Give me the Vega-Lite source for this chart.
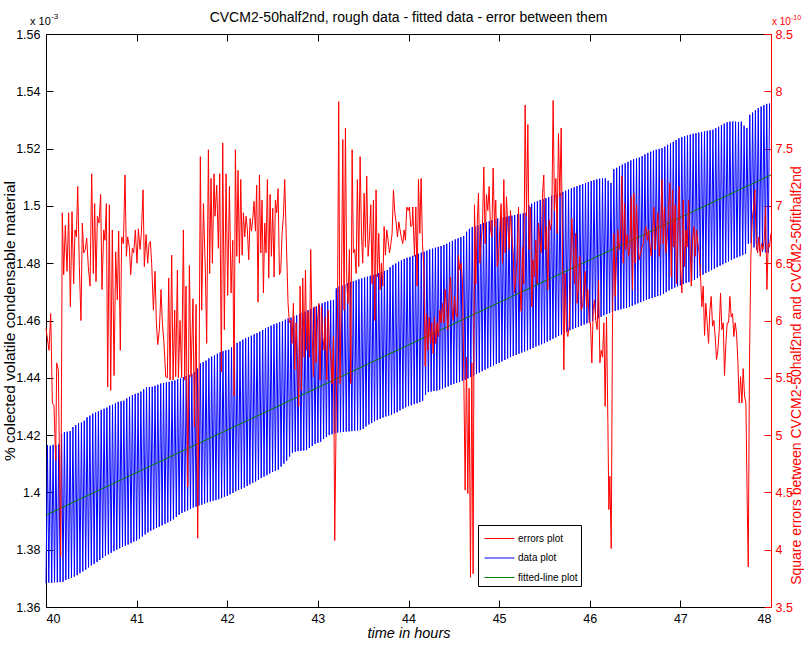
{
"$schema":"https://vega.github.io/schema/vega-lite/v6.json",
"width":725,"height":573,
"autosize":{"type":"none"},
"padding":{"left":46,"top":34,"right":33,"bottom":39},
"background":"white",
"config":{
 "view":{"stroke":null},
 "font":"Liberation Sans, Arial, sans-serif",
 "axis":{"grid":false,"labelFont":"Liberation Sans, Arial, sans-serif","titleFont":"Liberation Sans, Arial, sans-serif","titleFontWeight":"normal","domainWidth":1,"tickWidth":1,"labelFontSize":12.5,"titleFontSize":15,"labelOverlap":false},
 "legend":{"orient":"none","legendX":432,"legendY":491,"strokeColor":"black","fillColor":"white","padding":3,"cornerRadius":0,"rowPadding":3.5,"symbolType":"M-1.54,0L1.54,0","symbolSize":380,"symbolStrokeWidth":1,"symbolOffset":8,"labelOffset":8,"labelFontSize":10,"labelFont":"Liberation Sans, Arial, sans-serif","labelColor":"black","title":null}
},
"datasets":{
"fit":[{"t":40,"v":1.3921},{"t":48,"v":1.5108}],
"ttl":[{"t":44,"v":1.56,"s":"CVCM2-50half2nd, rough data - fitted data - error between them"}],
"multL":[{"t":40,"v":1.56,"s":"x 10","p":"-3"}],
"multR":[{"t":48,"e":8.5,"s":"x 10","p":"-10"}],
"data":[
{"t":40,"v":1.3683},{"t":40.016,"v":1.4165},{"t":40.031,"v":1.3685},{"t":40.047,"v":1.4163},{"t":40.063,"v":1.3684},{"t":40.078,"v":1.4166},{"t":40.094,"v":1.3686},{"t":40.109,"v":1.4164},{"t":40.125,"v":1.3686},{"t":40.141,"v":1.4168},{"t":40.156,"v":1.3687},{"t":40.172,"v":1.4205},{"t":40.188,"v":1.3688},{"t":40.203,"v":1.421},{"t":40.219,"v":1.3694},{"t":40.234,"v":1.4212},{"t":40.25,"v":1.3698},{"t":40.266,"v":1.4214},{"t":40.281,"v":1.3702},{"t":40.297,"v":1.4228},{"t":40.313,"v":1.3706},{"t":40.328,"v":1.4235},{"t":40.344,"v":1.3711},{"t":40.359,"v":1.4241},{"t":40.375,"v":1.3718},{"t":40.391,"v":1.4244},{"t":40.406,"v":1.3724},{"t":40.422,"v":1.425},{"t":40.438,"v":1.373},{"t":40.453,"v":1.4262},{"t":40.469,"v":1.3738},{"t":40.484,"v":1.4268},{"t":40.5,"v":1.3745},{"t":40.516,"v":1.4275},{"t":40.531,"v":1.375},{"t":40.547,"v":1.4279},{"t":40.563,"v":1.3757},{"t":40.578,"v":1.4283},{"t":40.594,"v":1.3764},{"t":40.609,"v":1.4288},{"t":40.625,"v":1.3771},{"t":40.641,"v":1.4292},{"t":40.656,"v":1.3778},{"t":40.672,"v":1.4296},{"t":40.688,"v":1.3784},{"t":40.703,"v":1.4303},{"t":40.719,"v":1.3789},{"t":40.734,"v":1.4306},{"t":40.75,"v":1.3795},{"t":40.766,"v":1.4311},{"t":40.781,"v":1.38},{"t":40.797,"v":1.4316},{"t":40.813,"v":1.3805},{"t":40.828,"v":1.4318},{"t":40.844,"v":1.381},{"t":40.859,"v":1.432},{"t":40.875,"v":1.3814},{"t":40.891,"v":1.4328},{"t":40.906,"v":1.3818},{"t":40.922,"v":1.4334},{"t":40.938,"v":1.3823},{"t":40.953,"v":1.434},{"t":40.969,"v":1.3828},{"t":40.984,"v":1.4344},
{"t":41,"v":1.3832},{"t":41.016,"v":1.4347},{"t":41.031,"v":1.3838},{"t":41.047,"v":1.4352},{"t":41.063,"v":1.3846},{"t":41.078,"v":1.436},{"t":41.094,"v":1.3853},{"t":41.109,"v":1.4367},{"t":41.125,"v":1.386},{"t":41.141,"v":1.4368},{"t":41.156,"v":1.3866},{"t":41.172,"v":1.4369},{"t":41.188,"v":1.3871},{"t":41.203,"v":1.4372},{"t":41.219,"v":1.3876},{"t":41.234,"v":1.4376},{"t":41.25,"v":1.388},{"t":41.266,"v":1.438},{"t":41.281,"v":1.3885},{"t":41.297,"v":1.4382},{"t":41.313,"v":1.389},{"t":41.328,"v":1.4384},{"t":41.344,"v":1.3895},{"t":41.359,"v":1.4386},{"t":41.375,"v":1.39},{"t":41.391,"v":1.4389},{"t":41.406,"v":1.3906},{"t":41.422,"v":1.4391},{"t":41.438,"v":1.3914},{"t":41.453,"v":1.4395},{"t":41.469,"v":1.3922},{"t":41.484,"v":1.4398},{"t":41.5,"v":1.3928},{"t":41.516,"v":1.4402},{"t":41.531,"v":1.3933},{"t":41.547,"v":1.4406},{"t":41.563,"v":1.3937},{"t":41.578,"v":1.441},{"t":41.594,"v":1.3942},{"t":41.609,"v":1.4414},{"t":41.625,"v":1.3947},{"t":41.641,"v":1.442},{"t":41.656,"v":1.395},{"t":41.672,"v":1.4432},{"t":41.688,"v":1.3954},{"t":41.703,"v":1.445},{"t":41.719,"v":1.3957},{"t":41.734,"v":1.4455},{"t":41.75,"v":1.3961},{"t":41.766,"v":1.446},{"t":41.781,"v":1.3965},{"t":41.797,"v":1.4468},{"t":41.813,"v":1.3968},{"t":41.828,"v":1.4474},{"t":41.844,"v":1.3971},{"t":41.859,"v":1.4478},{"t":41.875,"v":1.3973},{"t":41.891,"v":1.4484},{"t":41.906,"v":1.3976},{"t":41.922,"v":1.4489},{"t":41.938,"v":1.398},{"t":41.953,"v":1.4493},{"t":41.969,"v":1.3985},{"t":41.984,"v":1.4496},
{"t":42,"v":1.3988},{"t":42.016,"v":1.4498},{"t":42.031,"v":1.3993},{"t":42.047,"v":1.4506},{"t":42.063,"v":1.3998},{"t":42.078,"v":1.4514},{"t":42.094,"v":1.4004},{"t":42.109,"v":1.4522},{"t":42.125,"v":1.4008},{"t":42.141,"v":1.4527},{"t":42.156,"v":1.4012},{"t":42.172,"v":1.4533},{"t":42.188,"v":1.4017},{"t":42.203,"v":1.4538},{"t":42.219,"v":1.4022},{"t":42.234,"v":1.4542},{"t":42.25,"v":1.4028},{"t":42.266,"v":1.4547},{"t":42.281,"v":1.4033},{"t":42.297,"v":1.4552},{"t":42.313,"v":1.4038},{"t":42.328,"v":1.4556},{"t":42.344,"v":1.4044},{"t":42.359,"v":1.4561},{"t":42.375,"v":1.405},{"t":42.391,"v":1.4567},{"t":42.406,"v":1.4055},{"t":42.422,"v":1.4572},{"t":42.438,"v":1.406},{"t":42.453,"v":1.4577},{"t":42.469,"v":1.4066},{"t":42.484,"v":1.4582},{"t":42.5,"v":1.4071},{"t":42.516,"v":1.4587},{"t":42.531,"v":1.4075},{"t":42.547,"v":1.459},{"t":42.563,"v":1.4079},{"t":42.578,"v":1.4594},{"t":42.594,"v":1.409},{"t":42.609,"v":1.4598},{"t":42.625,"v":1.41},{"t":42.641,"v":1.4603},{"t":42.656,"v":1.4111},{"t":42.672,"v":1.4607},{"t":42.688,"v":1.4125},{"t":42.703,"v":1.461},{"t":42.719,"v":1.4138},{"t":42.734,"v":1.4614},{"t":42.75,"v":1.4142},{"t":42.766,"v":1.4618},{"t":42.781,"v":1.4144},{"t":42.797,"v":1.4622},{"t":42.813,"v":1.4145},{"t":42.828,"v":1.4627},{"t":42.844,"v":1.4146},{"t":42.859,"v":1.4631},{"t":42.875,"v":1.4148},{"t":42.891,"v":1.4636},{"t":42.906,"v":1.4155},{"t":42.922,"v":1.464},{"t":42.938,"v":1.4162},{"t":42.953,"v":1.4645},{"t":42.969,"v":1.4169},{"t":42.984,"v":1.4649},
{"t":43,"v":1.4173},{"t":43.016,"v":1.4655},{"t":43.031,"v":1.4177},{"t":43.047,"v":1.466},{"t":43.063,"v":1.4186},{"t":43.078,"v":1.4664},{"t":43.094,"v":1.4193},{"t":43.109,"v":1.4667},{"t":43.125,"v":1.42},{"t":43.141,"v":1.467},{"t":43.156,"v":1.4203},{"t":43.172,"v":1.4672},{"t":43.188,"v":1.4206},{"t":43.203,"v":1.4712},{"t":43.219,"v":1.4209},{"t":43.234,"v":1.4718},{"t":43.25,"v":1.421},{"t":43.266,"v":1.4722},{"t":43.281,"v":1.4211},{"t":43.297,"v":1.4726},{"t":43.313,"v":1.4212},{"t":43.328,"v":1.473},{"t":43.344,"v":1.4213},{"t":43.359,"v":1.4734},{"t":43.375,"v":1.4214},{"t":43.391,"v":1.4737},{"t":43.406,"v":1.4215},{"t":43.422,"v":1.474},{"t":43.438,"v":1.4216},{"t":43.453,"v":1.4744},{"t":43.469,"v":1.4218},{"t":43.484,"v":1.4747},{"t":43.5,"v":1.4222},{"t":43.516,"v":1.475},{"t":43.531,"v":1.423},{"t":43.547,"v":1.4753},{"t":43.563,"v":1.4237},{"t":43.578,"v":1.4756},{"t":43.594,"v":1.4242},{"t":43.609,"v":1.4759},{"t":43.625,"v":1.4248},{"t":43.641,"v":1.4762},{"t":43.656,"v":1.4253},{"t":43.672,"v":1.4766},{"t":43.688,"v":1.4257},{"t":43.703,"v":1.4769},{"t":43.719,"v":1.4261},{"t":43.734,"v":1.4773},{"t":43.75,"v":1.4265},{"t":43.766,"v":1.4776},{"t":43.781,"v":1.4268},{"t":43.797,"v":1.4786},{"t":43.813,"v":1.4271},{"t":43.828,"v":1.4794},{"t":43.844,"v":1.4276},{"t":43.859,"v":1.4799},{"t":43.875,"v":1.428},{"t":43.891,"v":1.4805},{"t":43.906,"v":1.4286},{"t":43.922,"v":1.481},{"t":43.938,"v":1.4292},{"t":43.953,"v":1.4815},{"t":43.969,"v":1.4297},{"t":43.984,"v":1.4819},
{"t":44,"v":1.4301},{"t":44.016,"v":1.4822},{"t":44.031,"v":1.4304},{"t":44.047,"v":1.4826},{"t":44.063,"v":1.4308},{"t":44.078,"v":1.4829},{"t":44.094,"v":1.4311},{"t":44.109,"v":1.4833},{"t":44.125,"v":1.4315},{"t":44.141,"v":1.4837},{"t":44.156,"v":1.432},{"t":44.172,"v":1.484},{"t":44.188,"v":1.434},{"t":44.203,"v":1.4844},{"t":44.219,"v":1.435},{"t":44.234,"v":1.4848},{"t":44.25,"v":1.4352},{"t":44.266,"v":1.4851},{"t":44.281,"v":1.4354},{"t":44.297,"v":1.4854},{"t":44.313,"v":1.4355},{"t":44.328,"v":1.4857},{"t":44.344,"v":1.4358},{"t":44.359,"v":1.486},{"t":44.375,"v":1.4362},{"t":44.391,"v":1.4864},{"t":44.406,"v":1.4366},{"t":44.422,"v":1.4868},{"t":44.438,"v":1.437},{"t":44.453,"v":1.4873},{"t":44.469,"v":1.4375},{"t":44.484,"v":1.4878},{"t":44.5,"v":1.4379},{"t":44.516,"v":1.4883},{"t":44.531,"v":1.4382},{"t":44.547,"v":1.4887},{"t":44.563,"v":1.4385},{"t":44.578,"v":1.4891},{"t":44.594,"v":1.4389},{"t":44.609,"v":1.4895},{"t":44.625,"v":1.4393},{"t":44.641,"v":1.491},{"t":44.656,"v":1.4398},{"t":44.672,"v":1.492},{"t":44.688,"v":1.4403},{"t":44.703,"v":1.4926},{"t":44.719,"v":1.4408},{"t":44.734,"v":1.4929},{"t":44.75,"v":1.4413},{"t":44.766,"v":1.4932},{"t":44.781,"v":1.4418},{"t":44.797,"v":1.4936},{"t":44.813,"v":1.4423},{"t":44.828,"v":1.494},{"t":44.844,"v":1.4428},{"t":44.859,"v":1.4943},{"t":44.875,"v":1.4433},{"t":44.891,"v":1.4947},{"t":44.906,"v":1.4438},{"t":44.922,"v":1.495},{"t":44.938,"v":1.4443},{"t":44.953,"v":1.4953},{"t":44.969,"v":1.4448},{"t":44.984,"v":1.4956},
{"t":45,"v":1.4452},{"t":45.016,"v":1.4958},{"t":45.031,"v":1.4457},{"t":45.047,"v":1.496},{"t":45.063,"v":1.4462},{"t":45.078,"v":1.4962},{"t":45.094,"v":1.4467},{"t":45.109,"v":1.4964},{"t":45.125,"v":1.4472},{"t":45.141,"v":1.4966},{"t":45.156,"v":1.4476},{"t":45.172,"v":1.4968},{"t":45.188,"v":1.448},{"t":45.203,"v":1.497},{"t":45.219,"v":1.4484},{"t":45.234,"v":1.4972},{"t":45.25,"v":1.4488},{"t":45.266,"v":1.4974},{"t":45.281,"v":1.4492},{"t":45.297,"v":1.4976},{"t":45.313,"v":1.4496},{"t":45.328,"v":1.5003},{"t":45.344,"v":1.45},{"t":45.359,"v":1.5008},{"t":45.375,"v":1.4504},{"t":45.391,"v":1.5013},{"t":45.406,"v":1.4509},{"t":45.422,"v":1.5017},{"t":45.438,"v":1.4513},{"t":45.453,"v":1.5021},{"t":45.469,"v":1.4517},{"t":45.484,"v":1.5024},{"t":45.5,"v":1.4521},{"t":45.516,"v":1.5027},{"t":45.531,"v":1.4526},{"t":45.547,"v":1.5031},{"t":45.563,"v":1.4531},{"t":45.578,"v":1.5035},{"t":45.594,"v":1.4536},{"t":45.609,"v":1.5038},{"t":45.625,"v":1.4541},{"t":45.641,"v":1.5041},{"t":45.656,"v":1.4546},{"t":45.672,"v":1.5045},{"t":45.688,"v":1.4551},{"t":45.703,"v":1.5049},{"t":45.719,"v":1.4556},{"t":45.734,"v":1.5053},{"t":45.75,"v":1.4561},{"t":45.766,"v":1.5057},{"t":45.781,"v":1.4566},{"t":45.797,"v":1.5061},{"t":45.813,"v":1.457},{"t":45.828,"v":1.5065},{"t":45.844,"v":1.4574},{"t":45.859,"v":1.5069},{"t":45.875,"v":1.4578},{"t":45.891,"v":1.5073},{"t":45.906,"v":1.4582},{"t":45.922,"v":1.5076},{"t":45.938,"v":1.4586},{"t":45.953,"v":1.5079},{"t":45.969,"v":1.459},{"t":45.984,"v":1.5083},
{"t":46,"v":1.4594},{"t":46.016,"v":1.5087},{"t":46.031,"v":1.4598},{"t":46.047,"v":1.509},{"t":46.063,"v":1.4602},{"t":46.078,"v":1.5093},{"t":46.094,"v":1.4608},{"t":46.109,"v":1.5095},{"t":46.125,"v":1.4613},{"t":46.141,"v":1.5096},{"t":46.156,"v":1.4618},{"t":46.172,"v":1.5096},{"t":46.188,"v":1.4622},{"t":46.203,"v":1.5088},{"t":46.219,"v":1.4626},{"t":46.234,"v":1.508},{"t":46.25,"v":1.463},{"t":46.266,"v":1.5128},{"t":46.281,"v":1.4633},{"t":46.297,"v":1.5133},{"t":46.313,"v":1.4636},{"t":46.328,"v":1.5139},{"t":46.344,"v":1.4639},{"t":46.359,"v":1.5144},{"t":46.375,"v":1.4642},{"t":46.391,"v":1.5149},{"t":46.406,"v":1.4644},{"t":46.422,"v":1.5154},{"t":46.438,"v":1.4647},{"t":46.453,"v":1.5159},{"t":46.469,"v":1.4651},{"t":46.484,"v":1.5163},{"t":46.5,"v":1.4656},{"t":46.516,"v":1.5166},{"t":46.531,"v":1.466},{"t":46.547,"v":1.5169},{"t":46.563,"v":1.4664},{"t":46.578,"v":1.5174},{"t":46.594,"v":1.4668},{"t":46.609,"v":1.518},{"t":46.625,"v":1.4672},{"t":46.641,"v":1.5185},{"t":46.656,"v":1.4675},{"t":46.672,"v":1.5189},{"t":46.688,"v":1.4678},{"t":46.703,"v":1.5193},{"t":46.719,"v":1.4682},{"t":46.734,"v":1.5196},{"t":46.75,"v":1.4685},{"t":46.766,"v":1.5199},{"t":46.781,"v":1.4688},{"t":46.797,"v":1.5202},{"t":46.813,"v":1.4693},{"t":46.828,"v":1.5207},{"t":46.844,"v":1.4699},{"t":46.859,"v":1.5213},{"t":46.875,"v":1.4705},{"t":46.891,"v":1.5218},{"t":46.906,"v":1.471},{"t":46.922,"v":1.5224},{"t":46.938,"v":1.4715},{"t":46.953,"v":1.523},{"t":46.969,"v":1.4719},{"t":46.984,"v":1.5236},
{"t":47,"v":1.4723},{"t":47.016,"v":1.524},{"t":47.031,"v":1.4727},{"t":47.047,"v":1.5243},{"t":47.063,"v":1.4731},{"t":47.078,"v":1.5246},{"t":47.094,"v":1.4734},{"t":47.109,"v":1.5249},{"t":47.125,"v":1.4738},{"t":47.141,"v":1.5252},{"t":47.156,"v":1.4742},{"t":47.172,"v":1.5254},{"t":47.188,"v":1.4748},{"t":47.203,"v":1.5256},{"t":47.219,"v":1.4754},{"t":47.234,"v":1.5258},{"t":47.25,"v":1.476},{"t":47.266,"v":1.526},{"t":47.281,"v":1.4766},{"t":47.297,"v":1.5262},{"t":47.313,"v":1.4771},{"t":47.328,"v":1.5264},{"t":47.344,"v":1.4776},{"t":47.359,"v":1.5266},{"t":47.375,"v":1.4781},{"t":47.391,"v":1.5271},{"t":47.406,"v":1.4786},{"t":47.422,"v":1.5276},{"t":47.438,"v":1.4791},{"t":47.453,"v":1.5282},{"t":47.469,"v":1.4796},{"t":47.484,"v":1.5287},{"t":47.5,"v":1.4801},{"t":47.516,"v":1.5292},{"t":47.531,"v":1.4806},{"t":47.547,"v":1.5294},{"t":47.563,"v":1.4811},{"t":47.578,"v":1.5295},{"t":47.594,"v":1.4816},{"t":47.609,"v":1.5294},{"t":47.625,"v":1.482},{"t":47.641,"v":1.5293},{"t":47.656,"v":1.4824},{"t":47.672,"v":1.5294},{"t":47.688,"v":1.4828},{"t":47.703,"v":1.528},{"t":47.719,"v":1.4832},{"t":47.734,"v":1.5272},{"t":47.75,"v":1.4868},{"t":47.766,"v":1.5318},{"t":47.781,"v":1.487},{"t":47.797,"v":1.5326},{"t":47.813,"v":1.4855},{"t":47.828,"v":1.5334},{"t":47.844,"v":1.4846},{"t":47.859,"v":1.5341},{"t":47.875,"v":1.4842},{"t":47.891,"v":1.5347},{"t":47.906,"v":1.484},{"t":47.922,"v":1.5352},{"t":47.938,"v":1.4838},{"t":47.953,"v":1.5356},{"t":47.969,"v":1.4836},{"t":47.984,"v":1.5358}
],
"err":[
{"t":40,"e":5.93},{"t":40.033,"e":5.74},{"t":40.052,"e":6.06},{"t":40.07,"e":5.28},{"t":40.088,"e":5.26},{"t":40.107,"e":4.78},{"t":40.118,"e":5.63},{"t":40.136,"e":5.57},{"t":40.162,"e":3.94},{"t":40.18,"e":6.94},{"t":40.195,"e":6.4},{"t":40.213,"e":6.83},{"t":40.232,"e":6.43},{"t":40.25,"e":6.94},{"t":40.269,"e":6.12},{"t":40.287,"e":6.95},{"t":40.305,"e":6.32},{"t":40.32,"e":6.79},{"t":40.335,"e":6.73},{"t":40.35,"e":7.17},{"t":40.368,"e":6.47},{"t":40.386,"e":6},{"t":40.401,"e":6.85},{"t":40.416,"e":6.59},{"t":40.434,"e":6.62},{"t":40.449,"e":6.72},{"t":40.467,"e":6.47},{"t":40.486,"e":6.3},{"t":40.504,"e":7.28},{"t":40.522,"e":6.41},{"t":40.537,"e":7.02},{"t":40.552,"e":6.34},{"t":40.567,"e":6.91},{"t":40.585,"e":6.85},{"t":40.603,"e":7.1},{"t":40.618,"e":6.27},{"t":40.637,"e":6.79},{"t":40.651,"e":6.7},{"t":40.666,"e":7.02},{"t":40.681,"e":5.42},{"t":40.699,"e":7.01},{"t":40.714,"e":5.39},{"t":40.732,"e":6.79},{"t":40.751,"e":5.52},{"t":40.769,"e":6.6},{"t":40.787,"e":6.18},{"t":40.802,"e":6.78},{"t":40.82,"e":5.74},{"t":40.835,"e":6.73},{"t":40.854,"e":6.67},{"t":40.872,"e":7.27},{"t":40.887,"e":6.56},{"t":40.901,"e":6.73},{"t":40.92,"e":6.64},{"t":40.935,"e":6.4},{"t":40.953,"e":6.63},{"t":40.968,"e":6.59},{"t":40.986,"e":6.79},{"t":41.004,"e":6.5},{"t":41.019,"e":6.8},{"t":41.038,"e":6.62},{"t":41.052,"e":6.76},{"t":41.071,"e":7.14},{"t":41.085,"e":6.47},{"t":41.104,"e":6.75},{"t":41.122,"e":6.5},{"t":41.137,"e":6.67},{"t":41.152,"e":6.69},{"t":41.166,"e":6.5},{"t":41.185,"e":6.09},{"t":41.203,"e":6.43},{"t":41.218,"e":5.98},{"t":41.233,"e":5.79},{"t":41.251,"e":5.92},{"t":41.269,"e":6.27},{"t":41.284,"e":5.98},{"t":41.302,"e":5.8},{"t":41.321,"e":5.51},{"t":41.339,"e":5.5},{"t":41.354,"e":6.37},{"t":41.369,"e":5.48},{"t":41.387,"e":6.57},{"t":41.402,"e":5.48},{"t":41.42,"e":6.09},{"t":41.431,"e":5.51},{"t":41.45,"e":6.44},{"t":41.461,"e":5.5},{"t":41.479,"e":6},{"t":41.497,"e":5.5},{"t":41.516,"e":6.79},{"t":41.531,"e":5.48},{"t":41.545,"e":6.3},{"t":41.564,"e":4.55},{"t":41.582,"e":6.48},{"t":41.6,"e":5.51},{"t":41.622,"e":6.19},{"t":41.637,"e":5.07},{"t":41.656,"e":6.14},{"t":41.674,"e":4.1},{"t":41.689,"e":5.5},{"t":41.703,"e":7.43},{"t":41.718,"e":6.09},{"t":41.737,"e":7.02},{"t":41.759,"e":6.41},{"t":41.773,"e":5.8},{"t":41.792,"e":7.49},{"t":41.806,"e":6.41},{"t":41.821,"e":7.24},{"t":41.836,"e":6.5},{"t":41.854,"e":7.28},{"t":41.865,"e":6.91},{"t":41.884,"e":7.18},{"t":41.902,"e":6.63},{"t":41.917,"e":7.28},{"t":41.935,"e":5.55},{"t":41.95,"e":7.55},{"t":41.968,"e":5.92},{"t":41.987,"e":7.28},{"t":42.005,"e":6.22},{"t":42.024,"e":7.17},
{"t":42.042,"e":6.24},{"t":42.061,"e":6.7},{"t":42.075,"e":5.34},{"t":42.09,"e":7.49},{"t":42.105,"e":6.56},{"t":42.119,"e":7.31},{"t":42.134,"e":6.5},{"t":42.149,"e":7.23},{"t":42.164,"e":6.57},{"t":42.178,"e":6.94},{"t":42.193,"e":6.73},{"t":42.208,"e":6.91},{"t":42.222,"e":6.79},{"t":42.237,"e":6.53},{"t":42.252,"e":6.89},{"t":42.267,"e":6.78},{"t":42.281,"e":6.88},{"t":42.296,"e":7.04},{"t":42.311,"e":6.78},{"t":42.325,"e":7.18},{"t":42.34,"e":6.16},{"t":42.355,"e":7.27},{"t":42.37,"e":6.59},{"t":42.384,"e":7.05},{"t":42.399,"e":6.24},{"t":42.414,"e":6.85},{"t":42.428,"e":6.59},{"t":42.443,"e":7.23},{"t":42.458,"e":6.37},{"t":42.473,"e":7.1},{"t":42.487,"e":6.56},{"t":42.502,"e":6.98},{"t":42.517,"e":6.38},{"t":42.531,"e":7.05},{"t":42.546,"e":6.94},{"t":42.561,"e":7.15},{"t":42.576,"e":6.4},{"t":42.59,"e":6.43},{"t":42.605,"e":6.76},{"t":42.62,"e":6.91},{"t":42.634,"e":7.23},{"t":42.653,"e":6.67},{"t":42.671,"e":6.15},{"t":42.686,"e":5.98},{"t":42.701,"e":6},{"t":42.715,"e":5.8},{"t":42.73,"e":6.15},{"t":42.745,"e":5.57},{"t":42.759,"e":5.98},{"t":42.774,"e":5.68},{"t":42.789,"e":5.25},{"t":42.804,"e":6.3},{"t":42.818,"e":5.39},{"t":42.833,"e":6.37},{"t":42.848,"e":5.68},{"t":42.863,"e":6.44},{"t":42.877,"e":5.74},{"t":42.892,"e":6.08},{"t":42.907,"e":5.68},{"t":42.921,"e":6.62},{"t":42.936,"e":5.92},{"t":42.951,"e":5.51},{"t":42.966,"e":6.12},{"t":42.98,"e":5.63},{"t":42.995,"e":5.98},{"t":43.01,"e":6.15},{"t":43.024,"e":5.48},{"t":43.039,"e":6.12},{"t":43.054,"e":5.86},{"t":43.069,"e":5.74},{"t":43.083,"e":6.03},{"t":43.098,"e":5.48},{"t":43.113,"e":6.09},{"t":43.127,"e":5.8},{"t":43.142,"e":5.68},{"t":43.157,"e":5.45},{"t":43.172,"e":5.86},{"t":43.186,"e":4.08},{"t":43.201,"e":5.1},{"t":43.216,"e":5.98},{"t":43.23,"e":7.91},{"t":43.245,"e":5.45},{"t":43.26,"e":6.3},{"t":43.275,"e":7.58},{"t":43.289,"e":6.09},{"t":43.304,"e":7.68},{"t":43.319,"e":6.32},{"t":43.333,"e":6.15},{"t":43.348,"e":6.62},{"t":43.363,"e":5.45},{"t":43.378,"e":7.49},{"t":43.392,"e":6.59},{"t":43.407,"e":6.62},{"t":43.422,"e":6.41},{"t":43.436,"e":7.23},{"t":43.451,"e":6.47},{"t":43.466,"e":7.43},{"t":43.481,"e":6.76},{"t":43.495,"e":6.5},{"t":43.51,"e":7.11},{"t":43.525,"e":6.64},{"t":43.539,"e":7.26},{"t":43.554,"e":6.56},{"t":43.569,"e":6.73},{"t":43.584,"e":7.01},{"t":43.598,"e":6.32},{"t":43.613,"e":7.05},{"t":43.628,"e":6},{"t":43.642,"e":7.14},{"t":43.657,"e":6.38},{"t":43.672,"e":6.76},{"t":43.687,"e":6.27},{"t":43.701,"e":6.5},{"t":43.716,"e":6.3},{"t":43.731,"e":6.82},{"t":43.745,"e":6.57},{"t":43.76,"e":6.79},{"t":43.775,"e":6.7},{"t":43.79,"e":6.59},{"t":43.804,"e":6.66},{"t":43.819,"e":6.76},{"t":43.834,"e":7.14},{"t":43.849,"e":6.94},{"t":43.863,"e":6.86},{"t":43.878,"e":6.73},{"t":43.893,"e":6.86},{"t":43.907,"e":6.79},{"t":43.922,"e":6.72},{"t":43.937,"e":6.67},{"t":43.952,"e":6.79},{"t":43.966,"e":6.7},{"t":43.981,"e":6.99},{"t":43.996,"e":6.96},{"t":44.01,"e":6.99},{"t":44.025,"e":6.82},{"t":44.04,"e":6.83},
{"t":44.047,"e":6.99},{"t":44.066,"e":6.56},{"t":44.081,"e":6.99},{"t":44.095,"e":6.3},{"t":44.11,"e":7.23},{"t":44.125,"e":6.76},{"t":44.139,"e":7.24},{"t":44.154,"e":6.67},{"t":44.169,"e":6.47},{"t":44.184,"e":5.6},{"t":44.198,"e":6.06},{"t":44.213,"e":5.74},{"t":44.228,"e":6.03},{"t":44.242,"e":5.8},{"t":44.257,"e":5.98},{"t":44.272,"e":5.71},{"t":44.287,"e":6.03},{"t":44.301,"e":5.8},{"t":44.316,"e":5.98},{"t":44.331,"e":5.86},{"t":44.345,"e":6.09},{"t":44.36,"e":5.98},{"t":44.375,"e":6.15},{"t":44.39,"e":5.98},{"t":44.404,"e":6.27},{"t":44.419,"e":6.12},{"t":44.434,"e":5.92},{"t":44.448,"e":6.21},{"t":44.463,"e":6.38},{"t":44.478,"e":6.12},{"t":44.493,"e":6},{"t":44.507,"e":6.21},{"t":44.522,"e":6.06},{"t":44.537,"e":6.03},{"t":44.551,"e":6.57},{"t":44.566,"e":6.44},{"t":44.581,"e":6.5},{"t":44.596,"e":6.32},{"t":44.61,"e":5.54},{"t":44.625,"e":4.52},{"t":44.64,"e":5.68},{"t":44.654,"e":4.49},{"t":44.669,"e":5.41},{"t":44.684,"e":3.76},{"t":44.699,"e":5.63},{"t":44.713,"e":3.79},{"t":44.728,"e":7.01},{"t":44.743,"e":6.32},{"t":44.757,"e":6.82},{"t":44.772,"e":7.11},{"t":44.787,"e":6.5},{"t":44.802,"e":6.7},{"t":44.816,"e":6.82},{"t":44.831,"e":7.34},{"t":44.846,"e":6.67},{"t":44.86,"e":7.1},{"t":44.875,"e":6.96},{"t":44.89,"e":7.17},{"t":44.905,"e":6.79},{"t":44.919,"e":6.73},{"t":44.934,"e":7.33},{"t":44.949,"e":6.82},{"t":44.963,"e":7.05},{"t":44.978,"e":6.47},{"t":44.993,"e":6.53},{"t":45.008,"e":6.8},{"t":45.022,"e":7.02},{"t":45.037,"e":6.5},{"t":45.052,"e":7.23},{"t":45.066,"e":6.59},{"t":45.081,"e":7.08},{"t":45.096,"e":6.82},{"t":45.111,"e":6.62},{"t":45.125,"e":6.96},{"t":45.14,"e":6.73},{"t":45.155,"e":6.59},{"t":45.169,"e":6.24},{"t":45.184,"e":6.38},{"t":45.199,"e":6.56},{"t":45.214,"e":6.99},{"t":45.228,"e":6.32},{"t":45.243,"e":6.08},{"t":45.258,"e":6.64},{"t":45.272,"e":6.32},{"t":45.287,"e":7.88},{"t":45.302,"e":6.91},{"t":45.317,"e":7.71},{"t":45.331,"e":6.62},{"t":45.346,"e":6.99},{"t":45.361,"e":6.12},{"t":45.375,"e":6.53},{"t":45.39,"e":6.38},{"t":45.405,"e":6.7},{"t":45.42,"e":6.32},{"t":45.434,"e":6.85},{"t":45.449,"e":6.7},{"t":45.464,"e":6.59},{"t":45.479,"e":7.11},{"t":45.493,"e":7.27},{"t":45.508,"e":6.62},{"t":45.523,"e":6.82},{"t":45.537,"e":6.27},{"t":45.552,"e":6.88},{"t":45.567,"e":6.79},{"t":45.581,"e":6.88},{"t":45.596,"e":7.92},{"t":45.611,"e":6.96},{"t":45.626,"e":7.24},{"t":45.64,"e":6.76},{"t":45.655,"e":7.63},{"t":45.67,"e":7.08},{"t":45.685,"e":7.68},{"t":45.699,"e":6.56},{"t":45.714,"e":5.57},{"t":45.729,"e":6.41},{"t":45.743,"e":5.92},{"t":45.758,"e":5.86},{"t":45.773,"e":5.95},{"t":45.788,"e":6.44},{"t":45.802,"e":6.89},{"t":45.817,"e":6.64},{"t":45.832,"e":6.32},{"t":45.846,"e":6.76},{"t":45.861,"e":6.15},{"t":45.876,"e":6.3},{"t":45.891,"e":6.56},{"t":45.905,"e":6.09},{"t":45.92,"e":6.12},{"t":45.935,"e":6.3},{"t":45.949,"e":6.43},{"t":45.964,"e":6.12},{"t":45.979,"e":6.27},{"t":45.994,"e":5.98},{"t":46.008,"e":5.98},{"t":46.023,"e":5.63},{"t":46.038,"e":6.09},{"t":46.052,"e":6.18},{"t":46.067,"e":6},
{"t":46.082,"e":5.92},{"t":46.097,"e":6.35},{"t":46.112,"e":5.63},{"t":46.126,"e":5.74},{"t":46.141,"e":5.68},{"t":46.156,"e":5.98},{"t":46.17,"e":5.25},{"t":46.185,"e":6.03},{"t":46.2,"e":5.1},{"t":46.211,"e":4.35},{"t":46.222,"e":4.64},{"t":46.237,"e":4.01},{"t":46.251,"e":5.98},{"t":46.266,"e":6.76},{"t":46.281,"e":6.21},{"t":46.296,"e":6.56},{"t":46.31,"e":6.79},{"t":46.325,"e":6.62},{"t":46.34,"e":6.73},{"t":46.354,"e":7.26},{"t":46.369,"e":6.5},{"t":46.384,"e":7.02},{"t":46.398,"e":6.62},{"t":46.413,"e":6.75},{"t":46.428,"e":6.56},{"t":46.443,"e":6.64},{"t":46.457,"e":7.08},{"t":46.472,"e":6.27},{"t":46.487,"e":7.11},{"t":46.501,"e":6.5},{"t":46.516,"e":7.01},{"t":46.531,"e":6.67},{"t":46.546,"e":6.53},{"t":46.56,"e":6.59},{"t":46.575,"e":6.64},{"t":46.59,"e":6.67},{"t":46.605,"e":6.76},{"t":46.619,"e":6.82},{"t":46.634,"e":6.7},{"t":46.649,"e":6.79},{"t":46.663,"e":6.67},{"t":46.678,"e":6.56},{"t":46.693,"e":6.73},{"t":46.708,"e":6.99},{"t":46.722,"e":6.62},{"t":46.737,"e":6.79},{"t":46.752,"e":6.94},{"t":46.766,"e":6.56},{"t":46.781,"e":6.73},{"t":46.796,"e":7.23},{"t":46.811,"e":6.67},{"t":46.825,"e":6.99},{"t":46.84,"e":6.59},{"t":46.855,"e":6.73},{"t":46.869,"e":6.96},{"t":46.884,"e":7.2},{"t":46.899,"e":6.38},{"t":46.914,"e":7.14},{"t":46.928,"e":6.64},{"t":46.943,"e":7.01},{"t":46.958,"e":6.32},{"t":46.972,"e":6.79},{"t":46.987,"e":7.17},{"t":47.002,"e":6.44},{"t":47.017,"e":6.24},{"t":47.031,"e":7.05},{"t":47.046,"e":6.47},{"t":47.061,"e":6.79},{"t":47.075,"e":6.64},{"t":47.09,"e":7.05},{"t":47.105,"e":6.73},{"t":47.12,"e":6.3},{"t":47.134,"e":6.7},{"t":47.149,"e":6.82},{"t":47.164,"e":6.56},{"t":47.178,"e":6.79},{"t":47.193,"e":6.67},{"t":47.208,"e":6.59},{"t":47.223,"e":6.38},{"t":47.237,"e":6.12},{"t":47.252,"e":6.3},{"t":47.267,"e":5.87},{"t":47.281,"e":6.15},{"t":47.296,"e":5.98},{"t":47.311,"e":5.8},{"t":47.326,"e":6.09},{"t":47.34,"e":6.21},{"t":47.355,"e":5.95},{"t":47.37,"e":6},{"t":47.384,"e":5.86},{"t":47.399,"e":5.66},{"t":47.414,"e":5.74},{"t":47.429,"e":5.92},{"t":47.443,"e":6.24},{"t":47.458,"e":5.92},{"t":47.473,"e":5.98},{"t":47.487,"e":5.52},{"t":47.502,"e":5.8},{"t":47.517,"e":5.98},{"t":47.532,"e":5.98},{"t":47.546,"e":6.21},{"t":47.561,"e":6.03},{"t":47.576,"e":6.06},{"t":47.59,"e":5.86},{"t":47.605,"e":5.98},{"t":47.62,"e":5.89},{"t":47.635,"e":5.63},{"t":47.649,"e":5.28},{"t":47.664,"e":5.51},{"t":47.679,"e":5.28},{"t":47.693,"e":5.58},{"t":47.708,"e":5.34},{"t":47.723,"e":5.28},{"t":47.738,"e":4.38},{"t":47.749,"e":3.85},{"t":47.763,"e":5.68},{"t":47.778,"e":6.56},{"t":47.793,"e":6.88},{"t":47.808,"e":6.99},{"t":47.822,"e":7.14},{"t":47.837,"e":6.67},{"t":47.852,"e":6.59},{"t":47.866,"e":6.73},{"t":47.881,"e":6.56},{"t":47.896,"e":6.67},{"t":47.911,"e":6.62},{"t":47.925,"e":6.7},{"t":47.94,"e":6.99},{"t":47.955,"e":6.27},{"t":47.969,"e":6.67},{"t":47.984,"e":6.64},{"t":47.999,"e":6.76}
]
},
"layer":[
 {"layer":[
  {"data":{"name":"data"},
   "mark":{"type":"line","strokeWidth":1},
   "encoding":{
    "x":{"field":"t","type":"quantitative","scale":{"domain":[40,48],"nice":false,"zero":false},
     "axis":{"orient":"bottom","values":[40,41,42,43,44,45,46,47,48],"format":"d","tickSize":-7,"labelPadding":12,"domainColor":"black","tickColor":"black","labelColor":"black","labelFontSize":12.5,"title":"time in hours","titleFontStyle":"italic","titleFontSize":14.5,"titleColor":"black","titlePadding":2}},
    "y":{"field":"v","type":"quantitative","scale":{"domain":[1.36,1.56],"nice":false,"zero":false},
     "axis":{"orient":"left","values":[1.36,1.38,1.4,1.42,1.44,1.46,1.48,1.5,1.52,1.54,1.56],"format":"~g","tickSize":-7,"labelPadding":13,"domainColor":"black","tickColor":"black","labelColor":"black","labelFontSize":12.5,"title":"% colected volatile condensable material","titleFontSize":15.5,"titleColor":"black","titlePadding":-2}},
    "color":{"datum":"data plot","type":"nominal","scale":{"domain":["errors plot","data plot","fitted-line plot"],"range":["#ff0000","#0000ff","#008000"]},
     "legend":{"encode":{"symbols":{"update":{"stroke":{"scale":"color","field":"value"},"strokeWidth":{"value":1}}}}}}
   }},
  {"data":{"name":"fit"},
   "mark":{"type":"line","strokeWidth":1},
   "encoding":{
    "x":{"field":"t","type":"quantitative"},
    "y":{"field":"v","type":"quantitative"},
    "color":{"datum":"fitted-line plot","type":"nominal"}
   }},
  {"data":{"name":"ttl"},
   "mark":{"type":"text","align":"center","baseline":"alphabetic","dy":-12,"fontSize":14,"fill":"black","font":"Liberation Sans, Arial, sans-serif"},
   "encoding":{"x":{"field":"t","type":"quantitative"},"y":{"field":"v","type":"quantitative"},"text":{"field":"s"}}},
  {"data":{"name":"multL"},
   "mark":{"type":"text","align":"left","baseline":"alphabetic","dx":-16,"dy":-9,"fontSize":11,"fill":"black","font":"Liberation Sans, Arial, sans-serif"},
   "encoding":{"x":{"field":"t","type":"quantitative"},"y":{"field":"v","type":"quantitative"},"text":{"field":"s"}}},
  {"data":{"name":"multL"},
   "mark":{"type":"text","align":"left","baseline":"alphabetic","dx":5,"dy":-15,"fontSize":8,"fill":"black","font":"Liberation Sans, Arial, sans-serif"},
   "encoding":{"x":{"field":"t","type":"quantitative"},"y":{"field":"v","type":"quantitative"},"text":{"field":"p"}}}
 ]},
 {"layer":[
  {"data":{"name":"err"},
   "mark":{"type":"line","strokeWidth":1},
   "encoding":{
    "x":{"field":"t","type":"quantitative","scale":{"domain":[40,48],"nice":false,"zero":false},
     "axis":{"orient":"top","values":[40,41,42,43,44,45,46,47,48],"labels":false,"tickSize":-7,"domainColor":"black","tickColor":"black","title":null}},
    "y":{"field":"e","type":"quantitative","scale":{"domain":[3.5,8.5],"nice":false,"zero":false},
     "axis":{"orient":"right","values":[3.5,4,4.5,5,5.5,6,6.5,7,7.5,8,8.5],"format":"~g","tickSize":-7,"labelPadding":11,"domainColor":"#ff0000","tickColor":"#ff0000","labelColor":"#ff0000","labelFontSize":12.5,"title":"Square errors between CVCM2-50half2nd and CVCM2-50fithalf2nd","titleColor":"#ff0000","titleFontSize":14,"titleAngle":270,"titleBaseline":"top","titleY":341,"titlePadding":-3}},
    "color":{"datum":"errors plot","type":"nominal"}
   }},
  {"data":{"name":"multR"},
   "mark":{"type":"text","align":"left","baseline":"alphabetic","dx":1,"dy":-9,"fontSize":10,"fill":"#ff0000","font":"Liberation Sans, Arial, sans-serif"},
   "encoding":{"x":{"field":"t","type":"quantitative"},"y":{"field":"e","type":"quantitative"},"text":{"field":"s"}}},
  {"data":{"name":"multR"},
   "mark":{"type":"text","align":"left","baseline":"alphabetic","dx":20,"dy":-14,"fontSize":7,"fill":"#ff0000","font":"Liberation Sans, Arial, sans-serif"},
   "encoding":{"x":{"field":"t","type":"quantitative"},"y":{"field":"e","type":"quantitative"},"text":{"field":"p"}}}
 ]}
],
"resolve":{"scale":{"x":"independent","y":"independent"}}
}
